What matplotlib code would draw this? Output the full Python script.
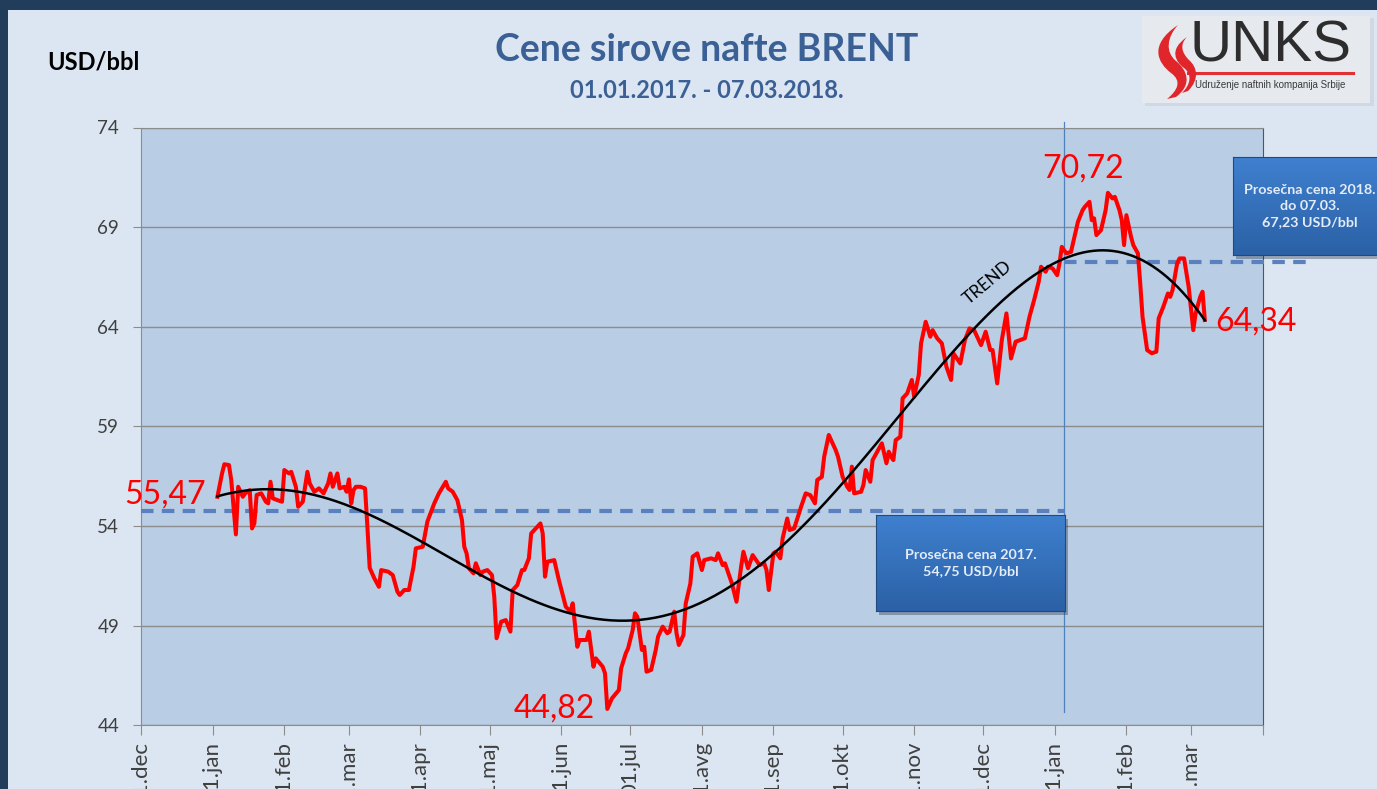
import numpy as np
import pandas as pd
import matplotlib
matplotlib.use("Agg")
import matplotlib.pyplot as plt
import matplotlib.dates as mdates
from matplotlib.patches import Rectangle, PathPatch
from matplotlib.path import Path
from matplotlib.colors import LinearSegmentedColormap

plt.rcParams['font.family'] = ['Lato', 'DejaVu Sans']

# Brent daily price (USD/bbl)
dates = [
    "2017-01-03", "2017-01-05", "2017-01-06", "2017-01-08", "2017-01-09", "2017-01-11",
    "2017-01-12", "2017-01-14", "2017-01-15", "2017-01-17", "2017-01-18", "2017-01-19",
    "2017-01-20", "2017-01-22", "2017-01-24", "2017-01-25", "2017-01-26", "2017-01-27",
    "2017-01-29", "2017-01-31", "2017-02-01", "2017-02-03", "2017-02-04", "2017-02-06",
    "2017-02-07", "2017-02-09", "2017-02-11", "2017-02-12", "2017-02-14", "2017-02-16",
    "2017-02-18", "2017-02-20", "2017-02-21", "2017-02-22", "2017-02-24", "2017-02-25",
    "2017-02-27", "2017-02-28", "2017-03-01", "2017-03-02", "2017-03-03", "2017-03-04",
    "2017-03-06", "2017-03-08", "2017-03-09", "2017-03-10", "2017-03-12", "2017-03-14",
    "2017-03-15", "2017-03-18", "2017-03-20", "2017-03-22", "2017-03-23", "2017-03-25",
    "2017-03-27", "2017-03-29", "2017-03-30", "2017-04-02", "2017-04-04", "2017-04-07",
    "2017-04-09", "2017-04-12", "2017-04-13", "2017-04-15", "2017-04-17", "2017-04-19",
    "2017-04-20", "2017-04-21", "2017-04-22", "2017-04-24", "2017-04-25", "2017-04-27",
    "2017-04-28", "2017-04-30", "2017-05-02", "2017-05-03", "2017-05-04", "2017-05-06",
    "2017-05-08", "2017-05-10", "2017-05-11", "2017-05-13", "2017-05-15", "2017-05-16",
    "2017-05-18", "2017-05-19", "2017-05-21", "2017-05-23", "2017-05-24", "2017-05-25",
    "2017-05-26", "2017-05-29", "2017-05-31", "2017-06-03", "2017-06-05", "2017-06-06",
    "2017-06-08", "2017-06-09", "2017-06-12", "2017-06-13", "2017-06-15", "2017-06-16",
    "2017-06-19", "2017-06-20", "2017-06-21", "2017-06-23", "2017-06-26", "2017-06-27",
    "2017-06-29", "2017-06-30", "2017-07-02", "2017-07-03", "2017-07-04", "2017-07-06",
    "2017-07-07", "2017-07-08", "2017-07-10", "2017-07-12", "2017-07-13", "2017-07-15",
    "2017-07-17", "2017-07-18", "2017-07-20", "2017-07-21", "2017-07-22", "2017-07-24",
    "2017-07-25", "2017-07-27", "2017-07-28", "2017-07-30", "2017-08-01", "2017-08-02",
    "2017-08-05", "2017-08-07", "2017-08-08", "2017-08-10", "2017-08-11", "2017-08-14",
    "2017-08-16", "2017-08-18", "2017-08-19", "2017-08-21", "2017-08-23", "2017-08-26",
    "2017-08-28", "2017-08-29", "2017-08-30", "2017-09-01", "2017-09-02", "2017-09-04",
    "2017-09-05", "2017-09-07", "2017-09-08", "2017-09-10", "2017-09-13", "2017-09-15",
    "2017-09-17", "2017-09-19", "2017-09-20", "2017-09-22", "2017-09-23", "2017-09-25",
    "2017-09-28", "2017-09-29", "2017-10-01", "2017-10-03", "2017-10-04", "2017-10-05",
    "2017-10-06", "2017-10-09", "2017-10-10", "2017-10-11", "2017-10-13", "2017-10-14",
    "2017-10-16", "2017-10-18", "2017-10-20", "2017-10-21", "2017-10-22", "2017-10-23",
    "2017-10-24", "2017-10-26", "2017-10-27", "2017-10-29", "2017-10-31", "2017-11-01",
    "2017-11-03", "2017-11-04", "2017-11-06", "2017-11-08", "2017-11-09", "2017-11-11",
    "2017-11-13", "2017-11-15", "2017-11-17", "2017-11-18", "2017-11-19", "2017-11-21",
    "2017-11-23", "2017-11-25", "2017-11-27", "2017-11-30", "2017-12-02", "2017-12-04",
    "2017-12-05", "2017-12-07", "2017-12-09", "2017-12-11", "2017-12-13", "2017-12-15",
    "2017-12-19", "2017-12-21", "2017-12-23", "2017-12-25", "2017-12-26", "2017-12-28",
    "2017-12-29", "2017-12-31", "2018-01-02", "2018-01-03", "2018-01-04", "2018-01-06",
    "2018-01-08", "2018-01-10", "2018-01-11", "2018-01-13", "2018-01-14", "2018-01-16",
    "2018-01-17", "2018-01-18", "2018-01-19", "2018-01-21", "2018-01-23", "2018-01-24",
    "2018-01-26", "2018-01-27", "2018-01-29", "2018-01-30", "2018-01-31", "2018-02-01",
    "2018-02-03", "2018-02-04", "2018-02-06", "2018-02-07", "2018-02-08", "2018-02-10",
    "2018-02-12", "2018-02-14", "2018-02-15", "2018-02-17", "2018-02-19", "2018-02-20",
    "2018-02-21", "2018-02-23", "2018-02-24", "2018-02-26", "2018-02-28", "2018-03-02",
    "2018-03-03", "2018-03-05", "2018-03-06", "2018-03-07",
]
brent = [
    55.47, 56.64, 57.10, 57.06, 56.30, 53.58,
    55.97, 55.47, 55.64, 55.80, 53.88, 54.13,
    55.56, 55.64, 55.22, 55.14, 56.22, 55.39,
    55.30, 55.22, 56.81, 56.64, 56.72, 55.97,
    54.97, 55.22, 56.72, 56.14, 55.72, 55.89,
    55.64, 56.14, 56.64, 55.97, 56.64, 55.89,
    55.97, 55.72, 56.34, 55.14, 55.80, 55.97,
    55.97, 55.89, 53.97, 51.90, 51.38, 50.95,
    51.79, 51.71, 51.54, 50.71, 50.54, 50.79,
    50.79, 51.96, 52.88, 52.96, 54.22, 55.14,
    55.64, 56.22, 55.89, 55.72, 55.30, 54.30,
    52.96, 52.63, 51.88, 51.63, 52.13, 51.54,
    51.71, 51.79, 51.54, 50.45, 48.37, 49.20,
    49.28, 48.70, 50.79, 51.04, 51.79, 51.79,
    52.38, 53.63, 53.88, 54.13, 53.63, 51.46,
    52.21, 52.29, 51.29, 49.95, 49.70, 50.12,
    47.94, 48.28, 48.28, 48.70, 46.94, 47.36,
    46.94, 46.61, 44.82, 45.35, 45.77, 46.86,
    47.61, 47.86, 48.78, 49.62, 49.45, 47.78,
    47.94, 46.69, 46.78, 47.78, 48.45, 48.95,
    48.62, 48.70, 49.70, 48.62, 48.03, 48.53,
    50.12, 51.12, 52.46, 52.63, 51.79, 52.29,
    52.38, 52.29, 52.63, 52.04, 52.13, 51.12,
    50.20, 51.96, 52.71, 51.88, 52.54, 52.04,
    52.13, 51.79, 50.79, 52.63, 52.71, 52.38,
    53.38, 54.38, 53.80, 53.88, 54.97, 55.64,
    55.55, 55.14, 56.31, 56.47, 57.48, 58.57,
    57.81, 57.48, 56.47, 55.97, 55.81, 56.98,
    55.64, 55.72, 56.06, 56.81, 56.22, 57.31,
    57.73, 58.15, 57.15, 57.73, 57.48, 57.31,
    58.31, 58.48, 60.41, 60.66, 61.33, 60.49,
    61.58, 63.17, 64.25, 63.50, 63.83, 63.42,
    63.17, 61.99, 61.33, 62.67, 62.50, 62.16,
    63.33, 63.92, 63.83, 63.08, 63.75, 62.83,
    62.83, 61.16, 63.33, 64.67, 62.41, 63.25,
    63.42, 64.50, 65.34, 66.26, 67.01, 66.76,
    67.01, 66.93, 66.59, 67.18, 68.01, 67.68,
    67.76, 68.77, 69.27, 69.85, 70.02, 70.27,
    69.35, 69.44, 68.60, 68.85, 69.85, 70.72,
    70.44, 70.52, 69.85, 69.35, 68.10, 69.60,
    68.52, 68.10, 67.68, 66.18, 64.50, 62.83,
    62.67, 62.75, 64.42, 65.00, 65.67, 65.50,
    65.84, 67.18, 67.43, 67.43, 66.00, 63.83,
    64.67, 65.50, 65.76, 64.34,
]

avg_2017 = 54.75
avg_2018 = 67.23
year_split = "2018-01-05"
month_labels = ["01.dec", "01.jan", "01.feb", "01.mar", "01.apr", "01.maj", "01.jun",
                "01.jul", "01.avg", "01.sep", "01.okt", "01.nov", "01.dec", "01.jan",
                "01.feb", "01.mar", ""]

W, H = 1377, 789
RED = "#ff0000"
TITLE_BLUE = "#3a6095"


def fx(x):
    return x / W


def fy(y):
    return 1 - y / H


dt = pd.to_datetime(dates)
split = pd.Timestamp(year_split)

fig = plt.figure(figsize=(W / 100, H / 100), dpi=100)
fig.patch.set_facecolor("#223d5c")
fig.patches.append(Rectangle((fx(8), 0), 1, fy(10), transform=fig.transFigure,
                             facecolor="#dce6f2", edgecolor="none", zorder=-10))

ax = fig.add_axes([fx(141.3), fy(725.3), (1262.5 - 141.3) / W, (725.3 - 127.5) / H])
ax.set_facecolor("#b9cde5")

ax.set_xlim(pd.Timestamp("2016-12-01"), pd.Timestamp("2018-04-01"))
ax.set_ylim(44, 74)
ax.set_yticks(np.arange(44, 75, 5))
ax.xaxis.set_major_locator(mdates.MonthLocator())
ax.set_xticklabels(month_labels)
ax.grid(axis="y", color="#8c8c8c", lw=1)
ax.set_axisbelow(True)
ax.tick_params(axis="y", length=6, pad=10, labelsize=13.5, colors="#8c8c8c", labelcolor="#404040")
ax.tick_params(axis="x", length=7, pad=5, labelsize=16, colors="#8c8c8c", labelcolor="#404040",
               labelrotation=90)
for s in ["left", "top", "bottom"]:
    ax.spines[s].set_color("#8c8c8c")
ax.spines["right"].set_color("#555555")

# average lines and year boundary
ax.plot([ax.get_xlim()[0], mdates.date2num(split)], [avg_2017, avg_2017],
        ls=(0, (3, 2)), color="#5a80bf", lw=3, zorder=3)
ax.plot([split, pd.Timestamp("2018-04-22")], [avg_2018, avg_2018],
        ls=(0, (3, 2)), color="#5a80bf", lw=3, zorder=3, clip_on=False)
ax.axvline(split, ymin=0.022, ymax=1.009, color="#4f81bd", lw=0.9, clip_on=False, zorder=2)

# price line
ax.plot(dt, brent, color=RED, lw=2.9, solid_joinstyle="round", zorder=4)

# polynomial trend
xn = mdates.date2num(dt)
coef = np.polyfit(xn - xn[0], brent, 6)
xs = np.linspace(0, xn[-1] - xn[0], 400)
ax.plot(mdates.num2date(xs + xn[0]), np.polyval(coef, xs), color="black", lw=1.8, zorder=5)

# value labels
i_min, i_max = int(np.argmin(brent)), int(np.argmax(brent))
lab = dict(color=RED, fontsize=23, textcoords="offset pixels", zorder=6)
ax.annotate(f"{brent[0]:.2f}".replace(".", ","), (dt[0], brent[0]), xytext=(-12, 2),
            ha="right", va="center", **lab)
ax.annotate(f"{brent[i_min]:.2f}".replace(".", ","), (dt[i_min], brent[i_min]), xytext=(-12, 0),
            ha="right", va="center", **lab)
ax.annotate(f"{brent[i_max]:.2f}".replace(".", ","), (dt[i_max], brent[i_max]), xytext=(-25, 24),
            ha="center", va="center", **lab)
ax.annotate(f"{brent[-1]:.2f}".replace(".", ","), (dt[-1], brent[-1]), xytext=(10, -2),
            ha="left", va="center", annotation_clip=False, **lab)

fig.text(fx(988), fy(283), "TREND", rotation=40, ha="center", va="center", fontsize=12.5,
         color="black")

# titles
fig.text(fx(707), fy(50), "Cene sirove nafte BRENT", ha="center", va="center",
         fontsize=27, fontweight="bold", color=TITLE_BLUE)
fig.text(fx(707), fy(90), "01.01.2017. - 07.03.2018.", ha="center", va="center",
         fontsize=17, fontweight="bold", color=TITLE_BLUE)
fig.text(fx(47), fy(62), "USD/bbl", ha="left", va="center", fontsize=17,
         fontweight="bold", color="black")


def blue_box(left, top, right, bottom, text, text_x=0.5):
    fig.patches.append(Rectangle((fx(left + 3), fy(bottom + 4)), (right - left) / W, (bottom - top) / H,
                                 transform=fig.transFigure, facecolor="#1a2a40", alpha=0.35,
                                 edgecolor="none", zorder=5))
    bax = fig.add_axes([fx(left), fy(bottom), (right - left) / W, (bottom - top) / H])
    bax.set_zorder(6)
    cmap = LinearSegmentedColormap.from_list("boxblue", ["#3f80cf", "#2b61a6"])
    bax.imshow(np.linspace(0, 1, 100).reshape(-1, 1), aspect="auto", cmap=cmap,
               extent=[0, 1, 0, 1])
    bax.set_xticks([])
    bax.set_yticks([])
    for s in bax.spines.values():
        s.set_color("#1f4a80")
    bax.text(text_x, 0.5, text, transform=bax.transAxes, ha="center", va="center",
             color="#e4ecf8", fontsize=10.3, fontweight="bold", linespacing=1.4)
    return bax


blue_box(876, 515, 1065, 611, "Prosečna cena 2017.\n54,75 USD/bbl")
blue_box(1233, 157, 1395, 255, "Prosečna cena 2018.\ndo 07.03.\n67,23 USD/bbl",
         text_x=(1310 - 1233) / (1395 - 1233))

# UNKS logo
fig.patches.append(Rectangle((fx(1145), fy(106)), (1374 - 1145) / W, (106 - 18) / H,
                             transform=fig.transFigure, facecolor="#c9d0da", edgecolor="none",
                             alpha=0.6, zorder=1))
fig.patches.append(Rectangle((fx(1142), fy(103)), (1370 - 1142) / W, (103 - 16) / H,
                             transform=fig.transFigure, facecolor="#e6e9ee", edgecolor="none",
                             zorder=1))
flame_a = [(1178, 25), (1148, 45), (1158, 63), (1171, 73), (1182, 81), (1178, 90), (1167, 99),
           (1176, 97), (1193, 84), (1187, 70), (1176, 61), (1165, 52), (1167, 37), (1178, 25)]
flame_b = [(1187, 37), (1168, 50), (1176, 62), (1184, 68), (1193, 75), (1190, 85), (1182, 93),
           (1188, 91), (1200, 79), (1197, 67), (1189, 60), (1181, 52), (1180, 44), (1187, 37)]
codes = [Path.MOVETO] + [Path.CURVE4] * 6 + [Path.LINETO] + [Path.CURVE4] * 6
for pts in (flame_a, flame_b):
    verts = [(fx(x), fy(y)) for x, y in pts]
    fig.patches.append(PathPatch(Path(verts, codes), transform=fig.transFigure,
                                 facecolor="#e0262b", edgecolor="none", zorder=2))
fig.text(fx(1190), fy(46), "UNKS", ha="left", va="center", fontsize=42,
         family="Liberation Sans", color="#2d2d2d")
fig.add_artist(plt.Line2D([fx(1188), fx(1353)], [fy(73), fy(73)], transform=fig.transFigure,
                          color="#e03035", lw=2.2))
fig.text(fx(1270), fy(85), "Udruženje naftnih kompanija Srbije", ha="center", va="center",
         fontsize=7, family="Liberation Sans", color="#3a3a3a")

fig.savefig("out.png", dpi=100)
